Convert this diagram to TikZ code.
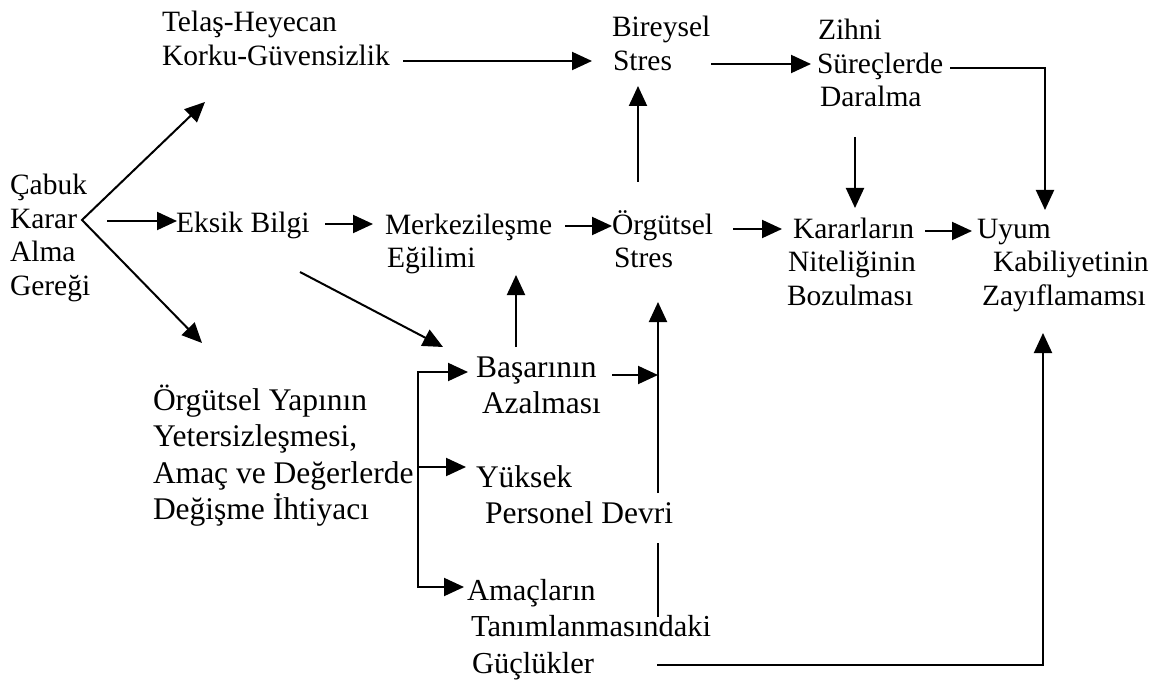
\documentclass[tikz,border=0pt]{standalone}
\usepackage{fontspec}
\setmainfont{Liberation Serif}
\usetikzlibrary{arrows.meta}
\newcommand{\blk}[1]{\vtop{\lineskiplimit=-1000pt\lineskip=0pt\halign{##\hfil\cr #1\crcr}}}
\tikzset{
  lbl/.style={inner sep=0pt, outer sep=0pt, anchor=base west, font=\fontsize{29.5}{33.5}\selectfont},
  lblb/.style={lbl, font=\fontsize{31.5}{36.5}\selectfont},
  conn/.style={line width=2pt, line join=miter},
  arr/.style={conn, -{Triangle[length=20pt,width=18pt]}},
  arrboth/.style={conn, {Triangle[length=20pt,width=18pt]}-{Triangle[length=20pt,width=18pt]}},
}
\begin{document}
\begin{tikzpicture}[x=1pt,y=-1pt]
\useasboundingbox[fill=white] (0,0) rectangle (1160,682);

% text nodes
\node[lbl] (cabuk) at (10,195) {\blk{Çabuk\cr Karar\cr Alma\cr Gereği}};
\node[lbl] (telas) at (162,32) {\blk{Telaş-Heyecan\cr Korku-Güvensizlik}};
\node[lbl] (bireysel) at (612,37) {\blk{Bireysel\cr \hskip1pt Stres}};
\node[lbl] (zihni) at (817,40) {\blk{\hskip1pt Zihni\cr Süreçlerde\cr \hskip3pt Daralma}};
\node[lbl] (eksik) at (176,233) {Eksik Bilgi};
\node[lbl] (merkez) at (385,234) {\blk{Merkezileşme\cr \hskip2pt Eğilimi}};
\node[lbl] (orgs) at (612,234) {\blk{Örgütsel\cr \hskip2pt Stres}};
\node[lbl] (karar) at (787,238) {\blk{\hskip6pt Kararların\cr \hskip1pt Niteliğinin\cr Bozulması}};
\node[lbl] (uyum) at (977,238) {\blk{Uyum\cr \hskip16pt Kabiliyetinin\cr \hskip5pt Zayıflamamsı}};
\node[lblb] (yapi) at (153,410) {\blk{Örgütsel Yapının\cr Yetersizleşmesi,\cr Amaç ve Değerlerde\cr Değişme İhtiyacı}};
\node[lblb] (basari) at (476,377) {\blk{Başarının\cr \hskip6pt Azalması}};
\node[lblb] (yuksek) at (476,487) {\blk{Yüksek\cr \hskip9pt Personel Devri}};
\node[lblb, font=\fontsize{30.5}{36.5}\selectfont] (amac) at (467,600) {\blk{Amaçların\cr \hskip4pt Tanımlanmasındaki\cr \hskip5pt Güçlükler}};

% connector end points
\coordinate (apex) at (82,220);
\coordinate (tup) at (205,102);
\coordinate (tlow) at (202,343);
\coordinate (k1) at (107,221);  \coordinate (k2) at (177,221);
\coordinate (e1) at (325,224);  \coordinate (e2) at (373,224);
\coordinate (m1) at (565,226);  \coordinate (m2) at (612,226);
\coordinate (o1) at (733,229);  \coordinate (o2) at (782,229);
\coordinate (r1) at (925,231);  \coordinate (r2) at (972,231);
\coordinate (t1) at (403,61);   \coordinate (t2) at (592,61);
\coordinate (b1) at (711,64);   \coordinate (b2) at (811,64);
\coordinate (z1) at (950,68);   \coordinate (z2) at (1045,210);
\coordinate (d1) at (855,137);  \coordinate (d2) at (855,208);
\coordinate (s1) at (638,182);  \coordinate (s2) at (638,86);
\coordinate (x1) at (300,272);  \coordinate (x2) at (443,347);
\coordinate (u1) at (516,347);  \coordinate (u2) at (516,275);
\coordinate (vbot) at (658,617); \coordinate (vm1) at (658,543);
\coordinate (vm2) at (658,493);  \coordinate (vtop) at (658,302);
\coordinate (p1) at (612,375);  \coordinate (p2) at (658,375);
\coordinate (qa) at (468,372);  \coordinate (qbot) at (418,587);
\coordinate (qc) at (464,587);
\coordinate (qmid) at (418,467); \coordinate (qb) at (466,467);
\coordinate (g1) at (657,665);  \coordinate (g2) at (1043,333);

% connectors
\draw[arrboth] (tup) -- (apex) -- (tlow);
\draw[arr] (k1) -- (k2);
\draw[arr] (e1) -- (e2);
\draw[arr] (m1) -- (m2);
\draw[arr] (o1) -- (o2);
\draw[arr] (r1) -- (r2);
\draw[arr] (t1) -- (t2);
\draw[arr] (b1) -- (b2);
\draw[arr] (z1) -| (z2);
\draw[arr] (d1) -- (d2);
\draw[arr] (s1) -- (s2);
\draw[arr] (x1) -- (x2);
\draw[arr] (u1) -- (u2);
\draw[conn] (vbot) -- (vm1);
\draw[arr] (vm2) -- (vtop);
\draw[arr] (p1) -- (p2);
\draw[arrboth] (qa) -| (qbot) -- (qc);
\draw[arr] (qmid) -- (qb);
\draw[arr] (g1) -| (g2);
\end{tikzpicture}
\end{document}
